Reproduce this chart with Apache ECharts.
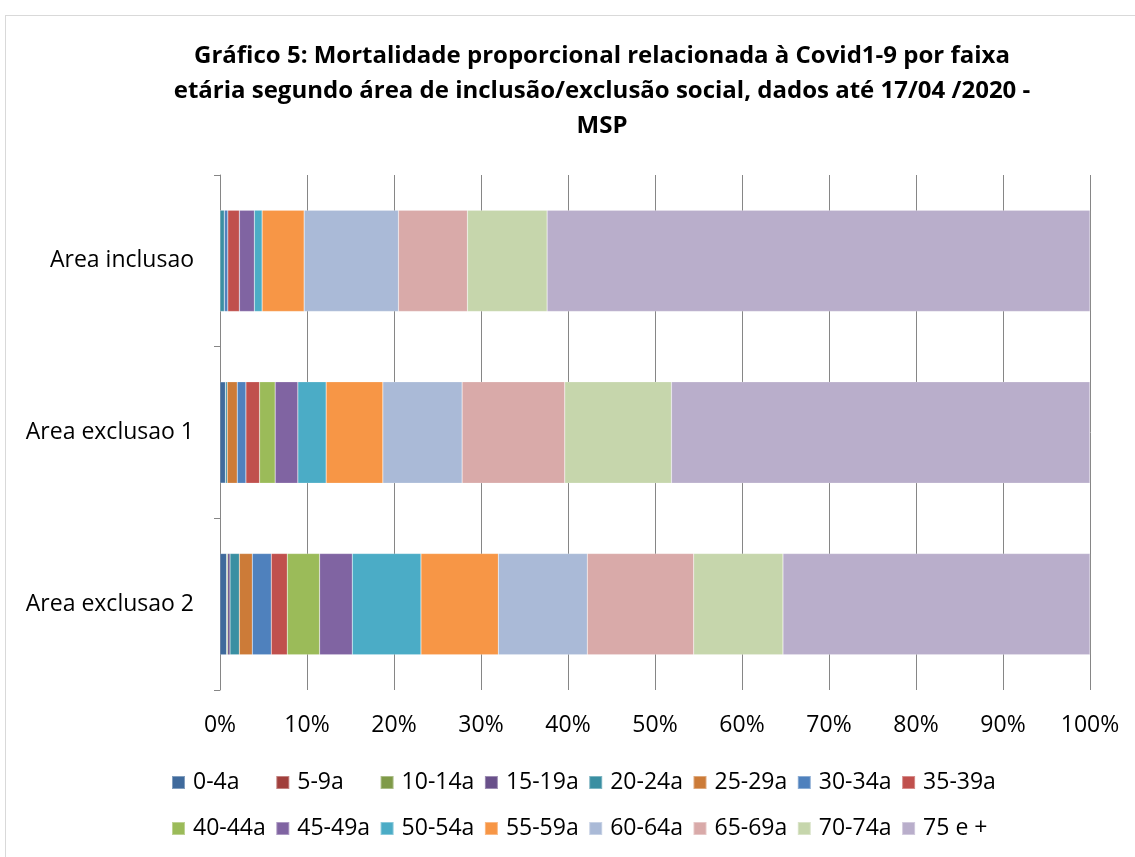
<!DOCTYPE html>
<html>
<head>
<meta charset="utf-8">
<script src="https://cdn.jsdelivr.net/npm/echarts@6/dist/echarts.min.js"></script>
<style>
  html, body { margin: 0; padding: 0; background: #fff; }
  #frame { position: absolute; left: 5px; top: 15px; width: 1140px; height: 860px; border: 1px solid #d9d9d9; box-sizing: border-box; }
  #chart { position: absolute; left: 0; top: 0; width: 1135px; height: 857px; }
</style>
</head>
<body>
<div id="frame"></div>
<div id="chart"></div>
<script>
  // faixas etárias (séries)
  var faixas = ['0-4a', '5-9a', '10-14a', '15-19a', '20-24a', '25-29a', '30-34a', '35-39a',
                '40-44a', '45-49a', '50-54a', '55-59a', '60-64a', '65-69a', '70-74a', '75 e +'];
  var areas = ['Area inclusao', 'Area exclusao 1', 'Area exclusao 2'];

  // % por faixa, uma lista por área
  var areaInclusao  = [0, 0, 0, 0, 0.5, 0, 0.4, 1.33, 0, 1.72, 0.89, 4.83, 10.84, 7.93, 9.16, 62.4];
  var areaExclusao1 = [0.63, 0, 0, 0, 0.2, 1.15, 1.0, 1.57, 1.79, 2.61, 3.25, 6.52, 9.11, 11.8, 12.26, 48.1];
  var areaExclusao2 = [0.77, 0, 0.12, 0.26, 1.07, 1.49, 2.18, 1.84, 3.72, 3.75, 7.9, 8.89, 10.23, 12.23, 10.26, 35.29];

  var cores = ['#3f6a9c', '#a13f3c', '#7f9a48', '#69508a', '#3a8fa2', '#cc7b38', '#4f81bd', '#c0504d',
               '#9bbb59', '#8064a2', '#4bacc6', '#f79646', '#aabad7', '#d9aaa9', '#c6d6ac', '#b9aecb'];

  var fonte = '"Open Sans", Lato, sans-serif';

  // legenda em grade: 8 colunas de largura igual, 2 linhas
  var legCol0 = 171, legColW = 104.3, legRowTop = [771, 817];

  var series = [];
  var legends = [];
  for (var i = 0; i < faixas.length; i++) {
    series.push({
      name: faixas[i],
      type: 'bar',
      stack: 'total',
      barCategoryGap: '41%',
      itemStyle: { color: cores[i], borderColor: 'rgba(255,255,255,0.35)', borderWidth: 0.5 },
      emphasis: { disabled: true },
      data: [areaInclusao[i], areaExclusao1[i], areaExclusao2[i]]
    });
    legends.push({
      data: [faixas[i]],
      left: legCol0 + (i % 8) * legColW,
      top: legRowTop[Math.floor(i / 8)],
      padding: 0,
      itemWidth: 13,
      itemHeight: 13,
      itemGap: 0,
      selectedMode: false,
      icon: 'rect',
      textStyle: { fontFamily: fonte, fontSize: 23, color: '#000', padding: [0, 0, 0, 3] }
    });
  }

  var chart = echarts.init(document.getElementById('chart'));
  chart.setOption({
    animation: false,
    title: {
      text: 'Gráfico 5: Mortalidade proporcional relacionada à Covid1-9 por faixa\netária segundo área de inclusão/exclusão social, dados até 17/04 /2020 -\nMSP',
      left: 597,
      top: 34,
      textAlign: 'center',
      textStyle: { fontFamily: fonte, fontSize: 24, fontWeight: 'bold', color: '#000', lineHeight: 35 }
    },
    legend: legends,
    grid: { left: 220, top: 175, width: 870, height: 515, containLabel: false },
    xAxis: {
      type: 'value',
      min: 0,
      max: 100,
      interval: 10,
      axisLine: { show: false },
      axisTick: { show: false },
      splitLine: { show: true, lineStyle: { color: '#868686', width: 1 } },
      axisLabel: { formatter: '{value}%', fontFamily: fonte, fontSize: 23, color: '#000', margin: 24 }
    },
    yAxis: {
      type: 'category',
      inverse: true,
      data: areas,
      axisLine: { show: true, lineStyle: { color: '#868686', width: 1 } },
      axisTick: { show: true, length: 6, lineStyle: { color: '#868686' } },
      axisLabel: { fontFamily: fonte, fontSize: 23, color: '#000', margin: 26 }
    },
    series: series
  });
</script>
</body>
</html>
